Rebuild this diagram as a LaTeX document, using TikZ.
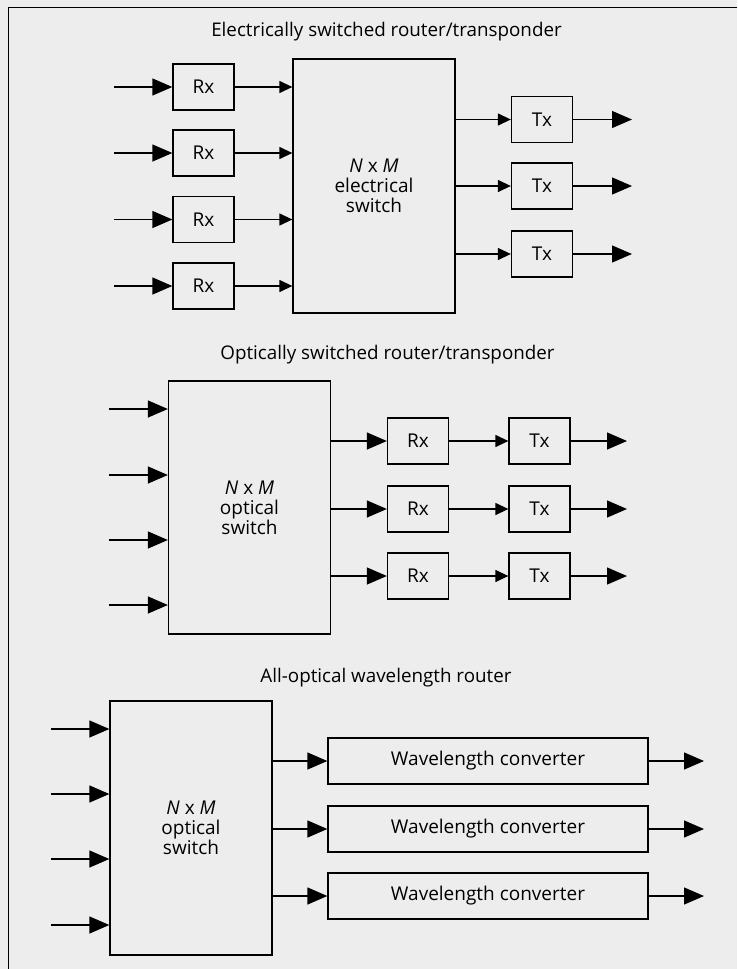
\documentclass[tikz,border=0pt]{standalone}
\usepackage{fontspec}
\setmainfont{Open Sans}
\usetikzlibrary{arrows.meta}
\begin{document}
\begin{tikzpicture}[x=1pt,y=-1pt,
  box/.style={draw, line width=1.3pt, inner sep=0pt, font=\fontsize{19}{20}\selectfont},
  swbox/.style={box, minimum width=162pt, minimum height=254pt, align=center, font=\fontsize{19}{20}\selectfont},
  rxbox/.style={box, minimum width=61pt, minimum height=46pt},
  wcbox/.style={box, minimum width=320pt, minimum height=46pt},
  big/.style={-{Triangle[length=20pt,width=17pt]}, line width=1.3pt},
  small/.style={-{Triangle[length=13pt,width=12pt]}, line width=1.3pt},
  ttl/.style={font=\fontsize{18.8}{20}\selectfont, inner sep=0pt}]
\fill[black!7] (0,0) rectangle (737,969);
\useasboundingbox (0,0) rectangle (737,969);
\draw[line width=1pt] (8,969) -- (8,7) -- (737,7);

% ---------- Section 1 ----------
\node[ttl] (t1) at (386.5,32) {Electrically switched router/transponder};
\node[swbox] (sw1) at (374,186) {\textit{N} x \textit{M}\\electrical\\switch};
\foreach \i/\y in {1/87,2/153,3/219.5,4/286}{
  \node[rxbox] (ra\i) at (203.5,\y) {Rx};
  \coordinate (ia\i) at (114,\y);
  \draw[big] (ia\i) -- (ra\i.west);
  \draw[small] (ra\i.east) -- (ra\i.east -| sw1.west);
}
\foreach \i/\y in {1/119.5,2/186,3/254}{
  \node[rxbox] (ta\i) at (542,\y) {Tx};
  \coordinate (oa\i) at (632,\y);
  \draw[small] (ta\i.west -| sw1.east) -- (ta\i.west);
  \draw[big] (ta\i.east) -- (oa\i);
}

% ---------- Section 2 ----------
\node[ttl] (t2) at (387.5,355) {Optically switched router/transponder};
\node[swbox, minimum height=253pt] (sw2) at (249.5,507.5) {\textit{N} x \textit{M}\\optical\\switch};
\foreach \i/\y in {1/409,2/475,3/540,4/605}{
  \coordinate (ib\i) at (109,\y);
  \draw[big] (ib\i) -- (ib\i -| sw2.west);
}
\foreach \i/\y in {1/441,2/509,3/576}{
  \node[rxbox] (rb\i) at (418,\y) {Rx};
  \node[rxbox] (tb\i) at (539.5,\y) {Tx};
  \coordinate (ob\i) at (627,\y);
  \draw[big] (rb\i.west -| sw2.east) -- (rb\i.west);
  \draw[small] (rb\i.east) -- (tb\i.west);
  \draw[big] (tb\i.east) -- (ob\i);
}

% ---------- Section 3 ----------
\node[ttl] (t3) at (386,678) {All-optical wavelength router};
\node[swbox, minimum height=254pt] (sw3) at (191,828) {\textit{N} x \textit{M}\\optical\\switch};
\foreach \i/\y in {1/729,2/794,3/859,4/925}{
  \coordinate (ic\i) at (51,\y);
  \draw[big] (ic\i) -- (ic\i -| sw3.west);
}
\foreach \i/\y in {1/761,2/829,3/896}{
  \node[wcbox] (wc\i) at (488,\y) {Wavelength converter};
  \coordinate (oc\i) at (704,\y);
  \draw[big] (wc\i.west -| sw3.east) -- (wc\i.west);
  \draw[big] (wc\i.east) -- (oc\i);
}
\end{tikzpicture}
\end{document}
